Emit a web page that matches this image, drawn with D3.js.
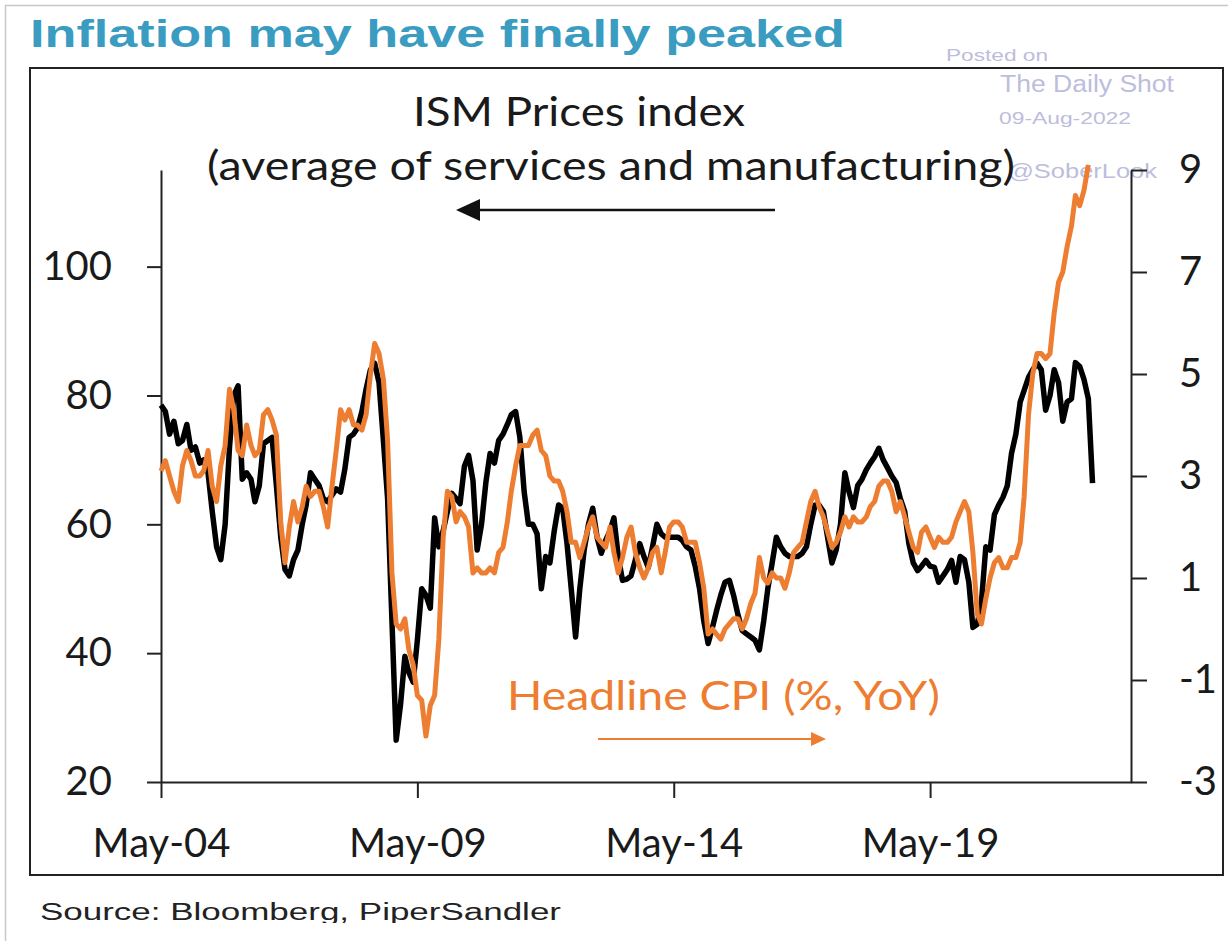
<!DOCTYPE html>
<html>
<head>
<meta charset="utf-8">
<script src="https://cdn.jsdelivr.net/npm/d3@7"></script>
<style>
  html, body { margin: 0; padding: 0; background: #fff; }
  svg { display: block; }
</style>
</head>
<body>
<div id="chart"></div>
<script>
// Data (monthly, first point = May-04)
const startMonth = "2004-05";

// ISM Prices index, average of services and manufacturing (May-04 .. Jul-22)
const ismPrices = [
  78.5, 77.5, 74, 76, 72.5, 73, 75.5, 71.5,                       // 2004
  72, 69.5, 70, 68, 62, 56.5, 54.5, 60, 72, 80, 81.5, 67,         // 2005
  68, 67, 63.5, 66, 72.5, 73, 73.5, 66, 58, 53, 52, 54.5,         // 2006
  56, 60, 63, 68, 67, 66, 64, 63.5, 64.5, 65.5, 65, 68.5,         // 2007
  73.5, 74, 75, 77.5, 81, 84, 85, 82, 73, 64, 45, 26.5,           // 2008
  32, 39.5, 37, 35.5, 42, 50, 49, 47, 61, 56.5, 59, 62,           // 2009
  64.8, 64, 63.2, 69, 70.7, 66.8, 56, 60, 66.5, 71, 69.5, 73,     // 2010
  74, 75.5, 77, 77.5, 73.5, 65, 60, 60, 58.5, 50, 55, 54,         // 2011
  59, 63, 62.5, 57, 50, 42.5, 50, 56, 60, 62.5, 58, 55.5,         // 2012
  57.5, 59, 61, 55, 51.3, 51.5, 52, 54.5, 57, 55, 53.3, 56.5,     // 2013
  60, 58.5, 58, 58, 58, 58, 57.5, 56.5, 56, 53.5, 50, 45,         // 2014
  41.5, 44, 46.5, 49, 51, 51.3, 49, 46, 43.5, 43, 42.5, 42,       // 2015
  40.5, 45, 50, 54, 58, 56.5, 55.5, 55, 55, 55, 55.5, 56.5,       // 2016
  60, 63, 63, 62, 58, 54, 56, 60, 68, 65, 62.6, 66,               // 2017
  67, 68.5, 69.5, 70.5, 71.8, 70, 68.8, 67.5, 66.5, 64, 62, 57,   // 2018
  54, 52.8, 53.5, 54.4, 53.5, 53.3, 51, 52, 53, 54.4, 51, 55,     // 2019
  54.5, 51, 44, 44.5, 48, 56.5, 56, 61.5, 63, 64.2, 66, 71,       // 2020
  74, 79, 80.8, 82.8, 84, 85, 84, 77.7, 80, 84, 82, 76,           // 2021
  79, 79.5, 85.1, 84.5, 82.5, 79.5, 66.4                          // 2022
];

// Headline CPI, % YoY (May-04 .. Jun-22)
const headlineCpi = [
  3.1, 3.3, 3.0, 2.7, 2.5, 3.2, 3.5, 3.3,                         // 2004
  3.0, 3.0, 3.1, 3.5, 2.8, 2.5, 3.2, 3.6, 4.7, 4.3, 3.5, 3.4,     // 2005
  4.0, 3.6, 3.4, 3.5, 4.2, 4.3, 4.1, 3.8, 2.1, 1.3, 2.0, 2.5,     // 2006
  2.1, 2.4, 2.8, 2.6, 2.7, 2.7, 2.4, 2.0, 2.8, 3.5, 4.3, 4.1,     // 2007
  4.3, 4.0, 4.0, 3.9, 4.2, 5.0, 5.6, 5.4, 4.9, 3.7, 1.1, 0.1,     // 2008
  0.0, 0.2, -0.4, -0.7, -1.3, -1.4, -2.1, -1.5, -1.3, -0.2, 1.8, 2.7, // 2009
  2.6, 2.1, 2.3, 2.2, 2.0, 1.1, 1.2, 1.1, 1.1, 1.2, 1.1, 1.5,     // 2010
  1.6, 2.1, 2.7, 3.2, 3.6, 3.6, 3.6, 3.8, 3.9, 3.5, 3.4, 3.0,     // 2011
  2.9, 2.9, 2.7, 2.3, 1.7, 1.7, 1.4, 1.7, 2.0, 2.2, 1.8, 1.7,     // 2012
  1.6, 2.0, 1.5, 1.1, 1.4, 1.8, 2.0, 1.5, 1.2, 1.0, 1.2, 1.5,     // 2013
  1.6, 1.1, 1.5, 2.0, 2.1, 2.1, 2.0, 1.7, 1.7, 1.7, 1.3, 0.8,     // 2014
  -0.1, 0.0, -0.1, -0.2, 0.0, 0.1, 0.2, 0.2, 0.0, 0.2, 0.5, 0.7,  // 2015
  1.4, 1.0, 0.9, 1.1, 1.0, 1.0, 0.8, 1.1, 1.5, 1.6, 1.7, 2.1,     // 2016
  2.5, 2.7, 2.4, 2.2, 1.9, 1.6, 1.7, 1.9, 2.2, 2.0, 2.2, 2.1,     // 2017
  2.1, 2.2, 2.4, 2.5, 2.8, 2.9, 2.9, 2.7, 2.3, 2.5, 2.2, 1.9,     // 2018
  1.6, 1.5, 1.9, 2.0, 1.8, 1.6, 1.8, 1.7, 1.7, 1.8, 2.1, 2.3,     // 2019
  2.5, 2.3, 1.5, 0.3, 0.1, 0.6, 1.0, 1.3, 1.4, 1.2, 1.2, 1.4,     // 2020
  1.4, 1.7, 2.6, 4.2, 5.0, 5.4, 5.4, 5.3, 5.4, 6.2, 6.8, 7.0,     // 2021
  7.5, 7.9, 8.5, 8.3, 8.6, 9.1                                    // 2022
];

const leftTicks = [20, 40, 60, 80, 100];
const rightTicks = [-3, -1, 1, 3, 5, 7, 9];
const xTickMonths = ["2004-05", "2009-05", "2014-05", "2019-05"];

const titleText = "Inflation may have finally peaked";
const ismLabel = ["ISM Prices index", "(average of services and manufacturing)"];
const cpiLabel = "Headline CPI (%, YoY)";
const sourceText = "Source: Bloomberg, PiperSandler";
const watermark = ["Posted on", "The Daily Shot", "09-Aug-2022", "@SoberLook"];

// Dimensions
const W = 1228, H = 941;
const plot = { left: 161, right: 1131, top: 170, bottom: 782 };
const orange = "#ED7D31";
const axisFont = "Lato, 'Open Sans', sans-serif";
const arialFont = "'Liberation Sans', Arial, sans-serif";

const svg = d3.select("#chart").append("svg")
    .attr("width", W)
    .attr("height", H);

// Outer frame and chart box
svg.append("rect")
    .attr("x", 5.5).attr("y", 5.5)
    .attr("width", W + 20).attr("height", H + 20)
    .attr("fill", "none").attr("stroke", "#c8c8c8").attr("stroke-width", 1.5);

svg.append("rect")
    .attr("x", 30).attr("y", 68)
    .attr("width", 1193).attr("height", 807)
    .attr("fill", "none").attr("stroke", "#222").attr("stroke-width", 2);

// Title
svg.append("text")
    .attr("x", 30).attr("y", 47)
    .attr("font-family", arialFont)
    .attr("font-weight", "bold")
    .attr("font-size", 38)
    .attr("fill", "#3a9cc0")
    .attr("textLength", 815)
    .attr("lengthAdjust", "spacingAndGlyphs")
    .text(titleText);

// Watermark
const wm = [
    { x: 946, y: 61, size: 17, len: 102 },
    { x: 1000, y: 92, size: 23, len: 174 },
    { x: 999, y: 124, size: 17, len: 132 },
    { x: 1008, y: 178, size: 20, len: 149 }
];
watermark.forEach((t, i) => {
    svg.append("text")
        .attr("x", wm[i].x).attr("y", wm[i].y)
        .attr("font-family", arialFont)
        .attr("font-size", wm[i].size)
        .attr("fill", "#bdbddc")
        .attr("textLength", wm[i].len)
        .attr("lengthAdjust", "spacingAndGlyphs")
        .text(t);
});

// Scales
const parseMonth = d3.timeParse("%Y-%m");
const start = parseMonth(startMonth);
const ismData = ismPrices.map((v, i) => ({ date: d3.timeMonth.offset(start, i), value: v }));
const cpiData = headlineCpi.map((v, i) => ({ date: d3.timeMonth.offset(start, i), value: v }));

const x = d3.scaleTime()
    .domain([start, parseMonth("2023-04")])
    .range([plot.left, plot.right]);

const yLeft = d3.scaleLinear()
    .domain([20, 115])
    .range([plot.bottom, plot.top]);

const yRight = d3.scaleLinear()
    .domain([-3, 9])
    .range([plot.bottom, plot.top]);

// Axes
function styleAxis(g) {
    g.select(".domain").attr("stroke", "#222").attr("stroke-width", 2);
    g.selectAll(".tick line").attr("stroke", "#222").attr("stroke-width", 2);
    g.selectAll(".tick text")
        .attr("font-family", axisFont)
        .attr("font-size", 40)
        .attr("fill", "#1a1a1a");
}

svg.append("g")
    .attr("transform", `translate(0,${plot.bottom})`)
    .call(d3.axisBottom(x)
        .tickValues(xTickMonths.map(parseMonth))
        .tickFormat(d3.timeFormat("%b-%y"))
        .tickSize(16)
        .tickSizeOuter(0)
        .tickPadding(31))
    .call(styleAxis);

svg.append("g")
    .attr("transform", `translate(${plot.left},0)`)
    .call(d3.axisLeft(yLeft)
        .tickValues(leftTicks)
        .tickSize(14)
        .tickSizeOuter(0)
        .tickPadding(35))
    .call(styleAxis);

svg.append("g")
    .attr("transform", `translate(${plot.right},0)`)
    .call(d3.axisRight(yRight)
        .tickValues(rightTicks)
        .tickFormat(d => String(d))
        .tickSize(16)
        .tickSizeOuter(0)
        .tickPadding(32))
    .call(styleAxis);

// Lines
const ismLine = d3.line()
    .x(d => x(d.date))
    .y(d => yLeft(d.value));

const cpiLine = d3.line()
    .x(d => x(d.date))
    .y(d => yRight(d.value));

svg.append("path")
    .datum(ismData)
    .attr("d", ismLine)
    .attr("fill", "none")
    .attr("stroke", "#000")
    .attr("stroke-width", 5.5)
    .attr("stroke-linejoin", "round");

svg.append("path")
    .datum(cpiData)
    .attr("d", cpiLine)
    .attr("fill", "none")
    .attr("stroke", orange)
    .attr("stroke-width", 5)
    .attr("stroke-linejoin", "round");

// Annotations
svg.append("text")
    .attr("x", 413).attr("y", 126)
    .attr("font-family", axisFont)
    .attr("font-size", 40)
    .attr("fill", "#1a1a1a")
    .attr("textLength", 332)
    .attr("lengthAdjust", "spacingAndGlyphs")
    .text(ismLabel[0]);

svg.append("text")
    .attr("x", 207).attr("y", 180)
    .attr("font-family", axisFont)
    .attr("font-size", 40)
    .attr("fill", "#1a1a1a")
    .attr("textLength", 808)
    .attr("lengthAdjust", "spacingAndGlyphs")
    .text(ismLabel[1]);

svg.append("line")
    .attr("x1", 775).attr("x2", 476)
    .attr("y1", 210).attr("y2", 210)
    .attr("stroke", "#111").attr("stroke-width", 2.5);
svg.append("path")
    .attr("d", "M456,210 L480,199 L480,221 Z")
    .attr("fill", "#111");

svg.append("text")
    .attr("x", 507).attr("y", 710)
    .attr("font-family", axisFont)
    .attr("font-size", 40)
    .attr("fill", orange)
    .attr("textLength", 433)
    .attr("lengthAdjust", "spacingAndGlyphs")
    .text(cpiLabel);

svg.append("line")
    .attr("x1", 598).attr("x2", 814)
    .attr("y1", 739).attr("y2", 739)
    .attr("stroke", orange).attr("stroke-width", 2);
svg.append("path")
    .attr("d", "M826,739 L811,732 L811,746 Z")
    .attr("fill", orange);

// Source (bottom edge of the picture cuts the descenders)
svg.append("clipPath").attr("id", "srcClip")
    .append("rect").attr("x", 0).attr("y", 0).attr("width", W).attr("height", 923);

svg.append("text")
    .attr("clip-path", "url(#srcClip)")
    .attr("x", 40).attr("y", 920)
    .attr("font-family", arialFont)
    .attr("font-size", 23)
    .attr("fill", "#222")
    .attr("textLength", 521)
    .attr("lengthAdjust", "spacingAndGlyphs")
    .text(sourceText);
</script>
</body>
</html>
